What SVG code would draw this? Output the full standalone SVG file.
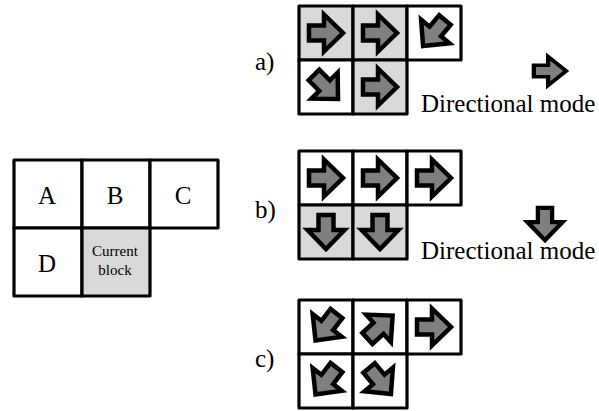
<svg xmlns="http://www.w3.org/2000/svg" width="599" height="411" viewBox="0 0 599 411">
  <style>
    .cell { fill: #ffffff; stroke: #000000; stroke-width: 3.2; stroke-linejoin: round; }
    .cur { fill: #d9d9d9; }
    .arrow { fill: #7f7f7f; stroke: #000000; stroke-width: 4.5; stroke-linejoin: miter; stroke-miterlimit: 4; }
    .lbl { font-family: "Liberation Serif", "Times New Roman", serif; font-size: 25px; fill: #000000; }
    .small { font-family: "Liberation Serif", "Times New Roman", serif; font-size: 15px; fill: #000000; }
  </style>
  <defs>
    <!-- block arrow pointing right, centred on the origin -->
    <path id="arr" class="arrow" d="M-17,-7.5 H-2 V-18.5 L17,0 L-2,18.5 V7.5 H-17 Z"/>
  </defs>
  <rect width="599" height="411" fill="#ffffff"/>

  <!-- neighbourhood of the current block -->
  <g id="neighbourhood">
    <rect class="cell" x="14" y="160" width="68" height="68"/>
    <rect class="cell" x="82" y="160" width="68" height="68"/>
    <rect class="cell" x="150" y="160" width="68" height="68"/>
    <rect class="cell" x="14" y="228" width="68" height="68"/>
    <rect class="cell cur" x="82" y="228" width="68" height="68"/>
    <text class="lbl" x="47" y="204" text-anchor="middle">A</text>
    <text class="lbl" x="115" y="204" text-anchor="middle">B</text>
    <text class="lbl" x="183" y="204" text-anchor="middle">C</text>
    <text class="lbl" x="47" y="272" text-anchor="middle">D</text>
    <text class="small" x="115" y="256" text-anchor="middle">Current</text>
    <text class="small" x="115" y="275" text-anchor="middle">block</text>
  </g>

  <!-- case a -->
  <g id="case-a">
    <text class="lbl" x="255" y="70">a)</text>
    <rect class="cell cur" x="299" y="6" width="54" height="54"/>
    <rect class="cell cur" x="353" y="6" width="54" height="54"/>
    <rect class="cell" x="407" y="6" width="54" height="54"/>
    <rect class="cell" x="299" y="60" width="54" height="54"/>
    <rect class="cell cur" x="353" y="60" width="54" height="54"/>
    <use href="#arr" transform="translate(326,33)"/>
    <use href="#arr" transform="translate(380,33)"/>
    <use href="#arr" transform="translate(434,33) rotate(130)"/>
    <use href="#arr" transform="translate(326,87) rotate(45)"/>
    <use href="#arr" transform="translate(380,87)"/>
    <use href="#arr" transform="translate(550,71) scale(0.95,0.78)"/>
    <text class="lbl" x="421" y="112">Directional mode</text>
  </g>

  <!-- case b -->
  <g id="case-b">
    <text class="lbl" x="255" y="218">b)</text>
    <rect class="cell" x="299" y="151" width="54" height="54"/>
    <rect class="cell" x="353" y="151" width="54" height="54"/>
    <rect class="cell" x="407" y="151" width="54" height="54"/>
    <rect class="cell cur" x="299" y="205" width="54" height="54"/>
    <rect class="cell cur" x="353" y="205" width="54" height="54"/>
    <use href="#arr" transform="translate(326,178)"/>
    <use href="#arr" transform="translate(380,178)"/>
    <use href="#arr" transform="translate(434,178)"/>
    <use href="#arr" transform="translate(326,232) rotate(90)"/>
    <use href="#arr" transform="translate(380,232) rotate(90)"/>
    <use href="#arr" transform="translate(545,224) rotate(90) scale(0.95)"/>
    <text class="lbl" x="421" y="259">Directional mode</text>
  </g>

  <!-- case c -->
  <g id="case-c">
    <text class="lbl" x="255" y="367">c)</text>
    <rect class="cell" x="299" y="300" width="54" height="54"/>
    <rect class="cell" x="353" y="300" width="54" height="54"/>
    <rect class="cell" x="407" y="300" width="54" height="54"/>
    <rect class="cell" x="299" y="354" width="54" height="54"/>
    <rect class="cell" x="353" y="354" width="54" height="54"/>
    <use href="#arr" transform="translate(326,327) rotate(128)"/>
    <use href="#arr" transform="translate(380,327) rotate(-42)"/>
    <use href="#arr" transform="translate(434,327)"/>
    <use href="#arr" transform="translate(326,381) rotate(128)"/>
    <use href="#arr" transform="translate(380,381) rotate(50)"/>
  </g>

  <g id="connectors"></g>
</svg>
